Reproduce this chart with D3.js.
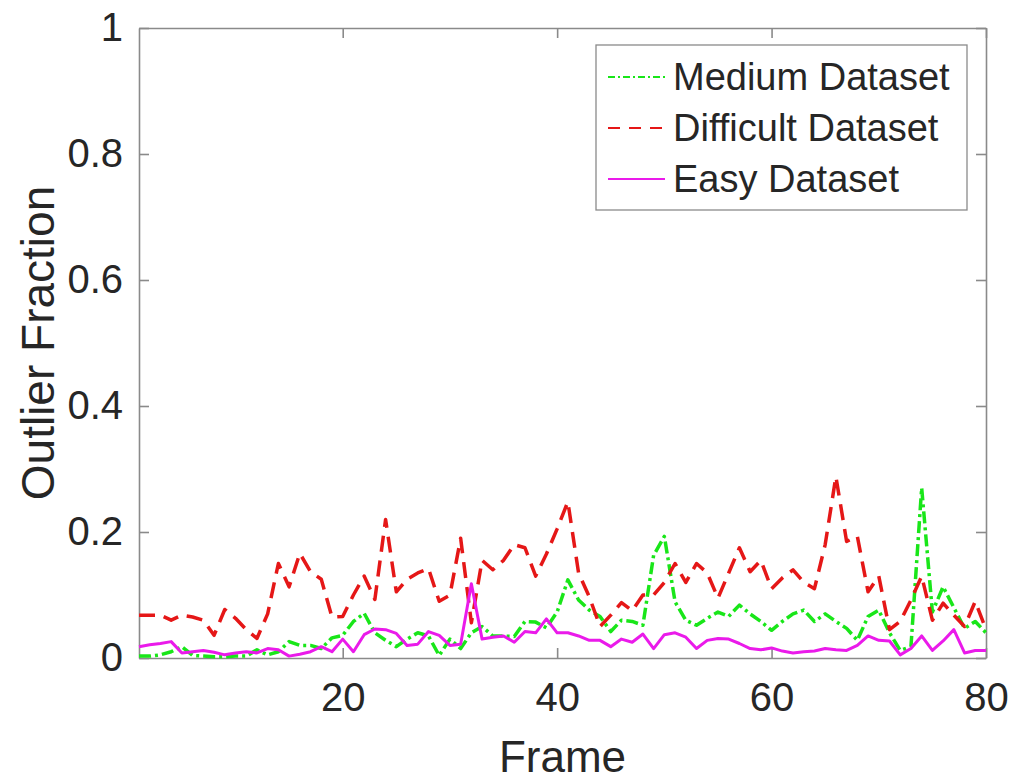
<!DOCTYPE html>
<html lang="en">
<head>
  <meta charset="UTF-8" />
  <title>outlier fraction</title>
  <script src="https://d3js.org/d3.v7.min.js" charset="utf-8"></script>
  <style>
    body { margin: 0; background: #fff; }
    text { font-family: "Liberation Sans", Arial, sans-serif; fill: #262626; }
  </style>
</head>
<body>
<script type="text/javascript">

const WIDTH = 1015;
const HEIGHT = 782;
const LEFT = 139, RIGHT = 986, TOP = 28, BOTTOM = 658;

// one value per frame, 1..80
var frames = d3.range(1, 81);

var medium = [
    0.003, 0.003, 0.005, 0.010, 0.018, 0.004, 0.003, 0.002, 0.002, 0.003,
    0.003, 0.013, 0.005, 0.010, 0.026, 0.020, 0.020, 0.015, 0.032, 0.036,
    0.058, 0.071, 0.040, 0.028, 0.018, 0.030, 0.040, 0.035, 0.004, 0.030,
    0.015, 0.040, 0.050, 0.035, 0.035, 0.034, 0.058, 0.057, 0.048, 0.073,
    0.124, 0.092, 0.076, 0.066, 0.042, 0.060, 0.058, 0.052, 0.163, 0.193,
    0.089, 0.060, 0.052, 0.063, 0.073, 0.066, 0.084, 0.070, 0.058, 0.044,
    0.058, 0.070, 0.076, 0.058, 0.070, 0.058, 0.047, 0.028, 0.066, 0.076,
    0.040, 0.012, 0.018, 0.270, 0.073, 0.113, 0.080, 0.047, 0.058, 0.040
];
var difficult = [
    0.068, 0.068, 0.068, 0.060, 0.068, 0.065, 0.060, 0.036, 0.077, 0.063,
    0.045, 0.031, 0.070, 0.150, 0.113, 0.166, 0.137, 0.125, 0.065, 0.066,
    0.100, 0.130, 0.093, 0.220, 0.105, 0.125, 0.135, 0.142, 0.090, 0.100,
    0.190, 0.056, 0.155, 0.140, 0.155, 0.180, 0.175, 0.130, 0.165, 0.205,
    0.248, 0.135, 0.097, 0.050, 0.068, 0.088, 0.075, 0.100, 0.100, 0.120,
    0.150, 0.120, 0.150, 0.135, 0.095, 0.135, 0.175, 0.137, 0.155, 0.110,
    0.127, 0.140, 0.120, 0.110, 0.180, 0.288, 0.185, 0.193, 0.105, 0.130,
    0.045, 0.058, 0.092, 0.130, 0.060, 0.087, 0.068, 0.050, 0.090, 0.045
];
var easy = [
    0.018, 0.021, 0.023, 0.026, 0.008, 0.010, 0.012, 0.009, 0.005, 0.008,
    0.010, 0.008, 0.015, 0.013, 0.003, 0.006, 0.010, 0.018, 0.010, 0.030,
    0.010, 0.037, 0.046, 0.045, 0.039, 0.020, 0.022, 0.042, 0.036, 0.020,
    0.022, 0.118, 0.030, 0.033, 0.035, 0.025, 0.042, 0.040, 0.062, 0.040,
    0.040, 0.035, 0.028, 0.028, 0.018, 0.030, 0.025, 0.038, 0.015, 0.037,
    0.040, 0.033, 0.015, 0.028, 0.031, 0.030, 0.023, 0.015, 0.013, 0.016,
    0.011, 0.008, 0.010, 0.011, 0.015, 0.013, 0.012, 0.020, 0.035, 0.028,
    0.027, 0.005, 0.015, 0.035, 0.012, 0.027, 0.045, 0.008, 0.012, 0.012
];

var xTicks = [20, 40, 60, 80];
var yTicks = [0, 0.2, 0.4, 0.6, 0.8, 1];

// plot order = legend order, easy ends up on top
var series = [
    {name: "Medium Dataset", values: medium, color: "#19e619", dash: "12,4,3,4", legendDash: "7,3,2,3", width: 3.5},
    {name: "Difficult Dataset", values: difficult, color: "#e51717", dash: "16,9", legendDash: "12,9", width: 3.5},
    {name: "Easy Dataset", values: easy, color: "#ea1aea", dash: null, legendDash: null, width: 3}
];

var svg = d3.select("body")
    .append("svg")
        .attr("width", WIDTH)
        .attr("height", HEIGHT);

const xScale = d3.scaleLinear().domain([1, 80]).range([LEFT, RIGHT]);
const yScale = d3.scaleLinear().domain([0, 1]).range([BOTTOM, TOP]);

const fmt = d => String(+d.toFixed(1));

// box background
svg.append("rect")
    .attr("x", LEFT).attr("y", TOP)
    .attr("width", RIGHT - LEFT).attr("height", BOTTOM - TOP)
    .attr("fill", "#fff");

// axes, ticks point inward like matlab
function styleAxis(g) {
    g.select(".domain").attr("stroke", "#8a8a8a").attr("stroke-width", 1.6);
    g.selectAll(".tick line").attr("stroke", "#8a8a8a").attr("stroke-width", 1.6);
    g.selectAll(".tick text").attr("fill", "#262626");
}

svg.append("g")
    .attr("transform", `translate(0, ${BOTTOM})`)
    .call(d3.axisBottom(xScale).tickValues(xTicks).tickSizeInner(-10).tickSizeOuter(0)
        .tickPadding(25).tickFormat(d3.format("d")))
    .attr("font-size", 40)
    .attr("font-family", "Liberation Sans, Arial, sans-serif")
    .call(styleAxis);

svg.append("g")
    .attr("transform", `translate(0, ${TOP})`)
    .call(d3.axisTop(xScale).tickValues(xTicks).tickSizeInner(-10).tickSizeOuter(0).tickFormat(""))
    .call(styleAxis);

svg.append("g")
    .attr("transform", `translate(${LEFT}, 0)`)
    .call(d3.axisLeft(yScale).tickValues(yTicks).tickSizeInner(-10).tickSizeOuter(0)
        .tickPadding(16).tickFormat(fmt))
    .attr("font-size", 40)
    .attr("font-family", "Liberation Sans, Arial, sans-serif")
    .call(styleAxis);

svg.append("g")
    .attr("transform", `translate(${RIGHT}, 0)`)
    .call(d3.axisRight(yScale).tickValues(yTicks).tickSizeInner(-10).tickSizeOuter(0).tickFormat(""))
    .call(styleAxis);

// axis labels
svg.append("text")
    .attr("x", (LEFT + RIGHT) / 2)
    .attr("y", 772)
    .attr("text-anchor", "middle")
    .attr("font-size", 44)
    .text("Frame");

svg.append("text")
    .attr("transform", `translate(54, ${(TOP + BOTTOM) / 2}) rotate(-90)`)
    .attr("text-anchor", "middle")
    .attr("font-size", 46)
    .text("Outlier Fraction");

// lines
var line = d3.line()
    .x((d, i) => xScale(frames[i]))
    .y(d => yScale(d));

svg.append("g").selectAll("path")
    .data(series)
    .enter().append("path")
        .attr("fill", "none")
        .attr("stroke", d => d.color)
        .attr("stroke-width", d => d.width)
        .attr("stroke-dasharray", d => d.dash)
        .attr("stroke-linejoin", "round")
        .attr("d", d => line(d.values));

// legend
var legend = svg.append("g").attr("transform", "translate(596, 45)");
legend.append("rect")
    .attr("width", 371).attr("height", 165)
    .attr("fill", "#fff")
    .attr("stroke", "#8a8a8a")
    .attr("stroke-width", 1.3);

var item = legend.selectAll(".item")
    .data(series)
    .enter().append("g")
        .attr("class", "item")
        .attr("transform", (d, i) => `translate(0, ${32 + i * 51})`);
item.append("line")
    .attr("x1", 12).attr("x2", 69)
    .attr("stroke", d => d.color)
    .attr("stroke-width", 2.2)
    .attr("stroke-dasharray", d => d.legendDash);
item.append("text")
    .attr("x", 77)
    .attr("dy", "0.35em")
    .attr("font-size", 38)
    .text(d => d.name);

</script>
</body>
</html>
